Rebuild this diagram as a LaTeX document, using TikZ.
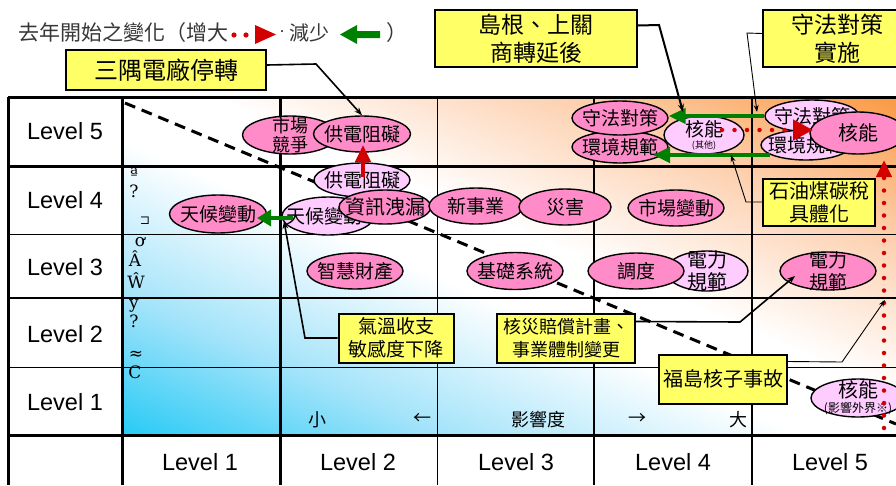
\documentclass[tikz,border=0pt]{standalone}
\usepackage{fontspec}
\setmainfont{Liberation Sans}
\newfontfamily\cjk{Noto Sans CJK TC}
\newfontfamily\glyphserif{DejaVu Serif}
\usetikzlibrary{arrows.meta,shapes.geometric,calc}
\definecolor{lcyan}{RGB}{30,200,245}
\definecolor{lcyanmid}{RGB}{165,228,250}
\definecolor{lorange}{RGB}{250,150,60}
\definecolor{lorangemid}{RGB}{253,208,175}
\definecolor{pinkD}{RGB}{255,140,200}
\definecolor{pinkL}{RGB}{255,204,255}
\definecolor{calloutY}{RGB}{255,255,102}
\definecolor{arrG}{RGB}{0,128,0}
\definecolor{arrR}{RGB}{210,0,0}
\definecolor{legendgray}{RGB}{55,55,55}
\pgfdeclarehorizontalshading{diagbg}{100bp}{color(0bp)=(lcyan); color(16bp)=(lcyan); color(31bp)=(lcyanmid); color(46bp)=(white); color(54bp)=(white); color(69bp)=(lorangemid); color(84bp)=(lorange); color(100bp)=(lorange)}
\newcommand\pel[8][]{%
  \node[pelbase,fill=#3,minimum width=#6pt,minimum height=#7pt] (#2) at (#4,#5) {};%
  \node[peltext,#1] (#2t) at (#2) {#8};}
\begin{document}
\begin{tikzpicture}[x=1pt,y=-1pt,
  pelbase/.style={ellipse,draw=black,line width=1.4pt,inner sep=0pt},
  peltext/.style={font=\cjk\fontsize{19}{21}\selectfont,align=center,inner sep=0pt,text=black},
  callout/.style={draw=black,line width=2pt,fill=calloutY,inner sep=0pt,align=center,text=black},
  lvl/.style={font=\fontsize{23.5}{23.5}\selectfont,inner sep=0pt},
  glyph/.style={font=\glyphserif\fontsize{17}{17}\selectfont,inner sep=0pt},
  axislbl/.style={font=\cjk\fontsize{18}{18}\selectfont,inner sep=0pt},
  gridthick/.style={line width=3pt},
  gridmid/.style={line width=2.2pt},
  gridthin/.style={line width=1pt},
  conn/.style={draw=black,line width=1.6pt,-{Stealth[length=8pt,width=6pt]}},
  connthin/.style={draw=black,line width=0.9pt,-{Stealth[length=7pt,width=5pt]}},
  garr/.style={draw=arrG,line width=4pt,-{Triangle[length=17pt,width=15pt]}},
  rdots/.style={draw=arrR,line width=4.5pt,line cap=round,dash pattern=on 0pt off 12.5pt},
  rsolid/.style={draw=arrR,line width=4pt,-{Triangle[length=17pt,width=15pt]}},
  diagdash/.style={draw=black,line width=3pt,dash pattern=on 11pt off 7pt}
]
\useasboundingbox (0,0) rectangle (896,485);
\fill[white] (0,0) rectangle (896,485);
% background shading of the matrix
\shade[shading=diagbg,shading angle=66.5] (122,98) rectangle (896,435);
% grid
\draw[gridthick] (8,97) -- (896,97);
\draw[gridthick] (8,166) -- (896,166);
\draw[gridthin] (8,234) -- (896,234);
\draw[gridmid] (8,298) -- (896,298);
\draw[gridthin] (8,367) -- (896,367);
\draw[gridthick] (8,435) -- (896,435);
\draw[gridthick] (8,97) -- (8,485);
\draw[gridthick] (122,97) -- (122,485);
\draw[gridthick] (280,97) -- (280,485);
\draw[gridthin] (437,97) -- (437,485);
\draw[gridmid] (594,97) -- (594,485);
\draw[gridmid] (752,97) -- (752,485);
% level labels
\node[lvl] (y5) at (65,131) {Level 5};
\node[lvl] (y4) at (65,200) {Level 4};
\node[lvl] (y3) at (65,267) {Level 3};
\node[lvl] (y2) at (65,334) {Level 2};
\node[lvl] (y1) at (65,402) {Level 1};
\node[lvl] (x1) at (200,462) {Level 1};
\node[lvl] (x2) at (358,462) {Level 2};
\node[lvl] (x3) at (516,462) {Level 3};
\node[lvl] (x4) at (673,462) {Level 4};
\node[lvl] (x5) at (830,462) {Level 5};
% garbled vertical axis text
\node[glyph] (gl1) at (134,174) {ª};
\node[glyph] (gl2) at (134,191) {?};
\node[glyph,font=\glyphserif\fontsize{12}{12}\selectfont] (gl3) at (145,221) {⊐};
\node[glyph] (gl4) at (140,242) {ơ};
\node[glyph] (gl5) at (135,259) {Â};
\node[glyph] (gl6) at (136,281) {Ŵ};
\node[glyph] (gl7) at (134,306) {y};
\node[glyph] (gl8) at (134,321) {?};
\node[glyph] (gl9) at (136,355) {≈};
\node[glyph] (gl10) at (135,372) {C};
% axis strip
\node[axislbl] (ax1) at (317,420) {小};
\node[axislbl] (ax2) at (422,419) {←};
\node[axislbl] (ax3) at (538,420) {影響度};
\node[axislbl] (ax4) at (637,419) {→};
\node[axislbl] (ax5) at (738,420) {大};
% diagonal dashed line
\coordinate (dA) at (125,103);
\coordinate (dB) at (896,424);
\draw[diagdash] (dA) -- (dB);
% ellipses
\pel[font=\cjk\fontsize{18}{19}\selectfont]{ms}{pinkD}{290}{135}{95}{38}{市場\\競爭}
\pel{gd5}{pinkD}{362}{134}{97}{36}{供電阻礙}
\pel{gd4}{pinkL}{362}{180}{96}{34}{供電阻礙}
\pel{tc1}{pinkD}{218}{214}{97}{38}{天候變動}
\pel[xshift=-4pt]{tc2}{pinkL}{328}{216}{92}{38}{天候變動}
\pel[font=\cjk\fontsize{20}{21}\selectfont]{zx}{pinkD}{385}{207}{92}{34}{資訊洩漏}
\pel{xs}{pinkD}{476}{206}{94}{36}{新事業}
\pel{zh}{pinkD}{565}{207}{92}{36}{災害}
\pel{sc}{pinkD}{676}{208}{96}{36}{市場變動}
\pel[font=\cjk\fontsize{19}{14}\selectfont]{nk}{pinkL}{704}{135}{80}{38}{核能\\[-2pt]{\fontsize{9}{9}\selectfont (其他)}}
\pel{hjL}{pinkD}{620}{147}{96}{32}{環境規範}
\pel{sfL}{pinkD}{620}{118}{96}{34}{守法對策}
\pel{sfR}{pinkL}{812}{116}{94}{32}{守法對策}
\pel{hjR}{pinkL}{806}{145}{90}{30}{環境規範}
\pel[font=\cjk\fontsize{20}{21}\selectfont]{nkR}{pinkD}{858}{133}{96}{42}{核能}
\pel{zh2}{pinkD}{355}{271}{96}{36}{智慧財產}
\pel{jc}{pinkD}{515}{271}{96}{37}{基礎系統}
\pel[font=\cjk\fontsize{20}{22}\selectfont]{dlL}{pinkL}{707}{271}{82}{40}{電力\\規範}
\pel{dd}{pinkD}{636}{271}{96}{36}{調度}
\pel[font=\cjk\fontsize{19}{22}\selectfont]{dlR}{pinkD}{828}{271}{96}{38}{電力\\規範}
\pel[font=\cjk\fontsize{20}{16}\selectfont]{nk1}{pinkL}{858}{398}{94}{38}{核能\\[-1pt]{\fontsize{12}{12}\selectfont (影響外界※)}}
% change arrows
\coordinate (ga1) at (770,155);
\coordinate (gb1) at (653,155);
\draw[garr] (sfR.west) -- (sfR.west -| sfL.east);
\draw[garr] (ga1) -- (gb1);
\coordinate (ga2) at (293,218);
\coordinate (gb2) at (257,218);
\draw[garr,-{Triangle[length=14pt,width=16pt]}] (ga2) -- (gb2);
\coordinate (ra1) at (363,177);
\coordinate (rb1) at (363,145);
\draw[rsolid] (ra1) -- (rb1);
\coordinate (ra2) at (722,130);
\coordinate (rb2) at (813,130);
\draw[rdots,-{Triangle[length=20pt,width=20pt]}] (ra2) -- (rb2);
\coordinate (ra3) at (884,428);
\coordinate (rb3) at (884,160);
\draw[rdots,-{Triangle[length=17pt,width=15pt]}] (ra3) -- (rb3);
% callouts
\node[callout,minimum width=200pt,minimum height=40pt,font=\cjk\fontsize{24}{24}\selectfont] (c1) at (166,70) {三隅電廠停轉};
\node[callout,minimum width=202pt,minimum height=57pt,font=\cjk\fontsize{23}{28}\selectfont] (c2) at (536,38.5) {島根、上關\\商轉延後};
\node[callout,minimum width=148pt,minimum height=57pt,font=\cjk\fontsize{23}{28}\selectfont] (c3) at (837,38.5) {守法對策\\實施};
\node[callout,minimum width=112pt,minimum height=47pt,font=\cjk\fontsize{20}{23}\selectfont] (c4) at (819,202) {石油煤碳稅\\具體化};
\node[callout,minimum width=115pt,minimum height=49pt,font=\cjk\fontsize{19}{23}\selectfont] (c5) at (396,338) {氣溫收支\\敏感度下降};
\node[callout,minimum width=138pt,minimum height=49pt,font=\cjk\fontsize{18}{23}\selectfont] (c6) at (566,338) {核災賠償計畫、\\事業體制變更};
\node[callout,minimum width=128pt,minimum height=49pt,font=\cjk\fontsize{20}{20}\selectfont] (c7) at (723,379) {福島核子事故};
% connectors
\coordinate (k1) at (316,64);
\draw[conn] ($(c1.east)+(0,-5)$) -- (k1) -- (gd5.north);
\coordinate (k2) at (659,25);
\coordinate (t2) at (683,112);
\draw[conn,line width=2pt] ($(c2.east)+(0,-13)$) -- (k2) -- (t2);
\coordinate (k3) at (747,33);
\coordinate (t3) at (757,112);
\draw[connthin] ($(c3.west)+(0,-5)$) -- (k3) -- (t3);
\coordinate (k4) at (746,202);
\coordinate (t4) at (731,155);
\draw[connthin] (c4.west) -- (k4) -- (t4);
\coordinate (k5) at (305,338);
\coordinate (t5) at (284,221);
\draw[conn] (c5.west) -- (k5) -- (t5);
\coordinate (k6) at (740,322);
\coordinate (t6) at (795,276);
\draw[conn] ($(c6.north east)+(0,9)$) -- (k6) -- (t6);
\coordinate (k7) at (842,362);
\coordinate (t7) at (885,300);
\draw[connthin] ($(c7.north east)+(0,8)$) -- (k7) -- (t7);
% legend
\node[anchor=west,inner sep=0pt,font=\cjk\fontsize{21}{21}\selectfont,text=legendgray] (lgA) at (18,33) {去年開始之變化（增大};
\fill[arrR] (234,35) circle (2.6pt);
\fill[arrR] (246,35) circle (2.6pt);
\fill[arrR] (255,25) -- (276,34.5) -- (255,44) -- cycle;
\node[inner sep=0pt,font=\fontsize{18}{18}\selectfont,text=legendgray] (lgDot) at (282,32) {.};
\node[inner sep=0pt,font=\cjk\fontsize{20}{20}\selectfont,text=legendgray] (lgB) at (309,33) {減少};
\fill[arrG] (340,34.5) -- (357,25) -- (357,31) -- (380,31) -- (380,38) -- (357,38) -- (357,44) -- cycle;
\node[anchor=west,inner sep=0pt,font=\cjk\fontsize{21}{21}\selectfont,text=legendgray] (lgC) at (386,33) {）};
\end{tikzpicture}
\end{document}
